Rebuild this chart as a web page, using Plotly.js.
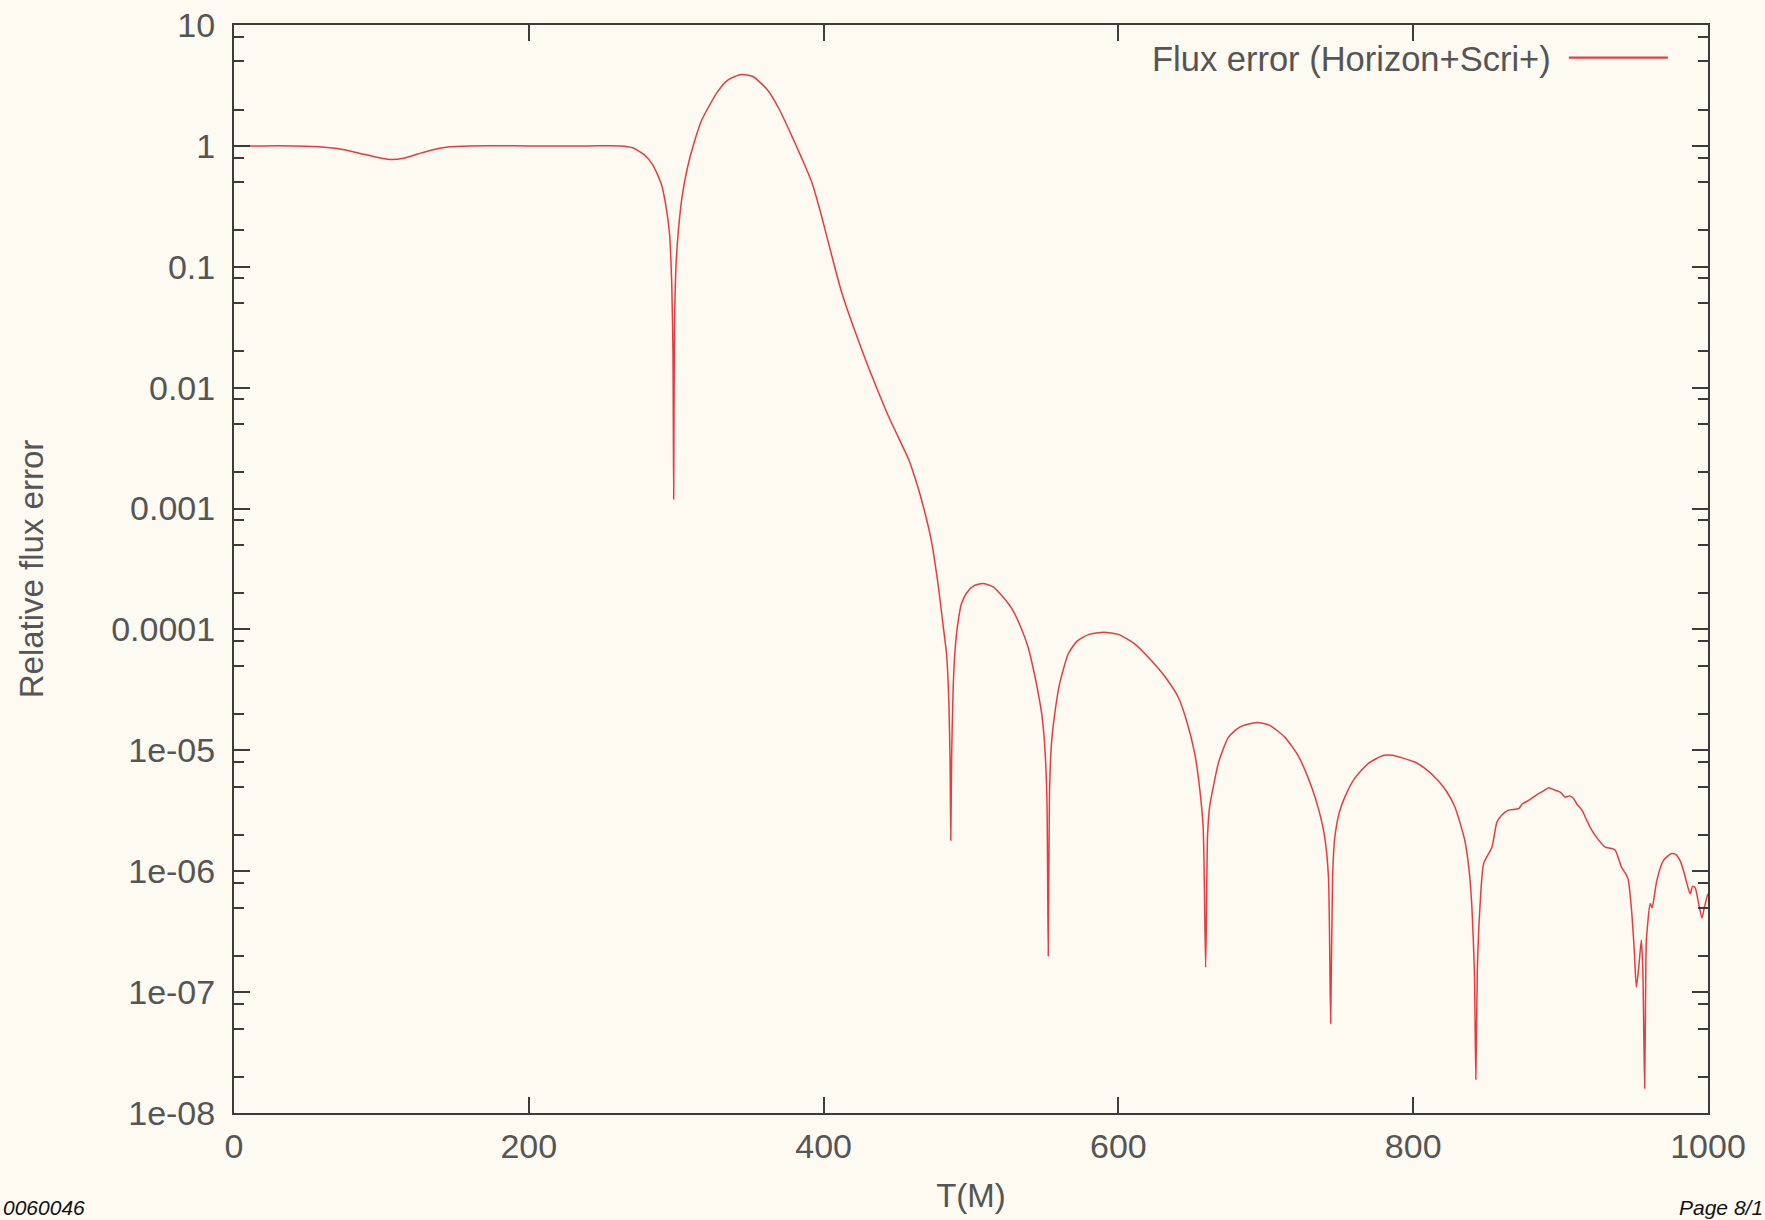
<!DOCTYPE html>
<html>
<head>
<meta charset="utf-8">
<script src="https://cdn.plot.ly/plotly-3.0.1.min.js"></script>
<style>
  html, body { margin: 0; padding: 0; background: #fcfaf1; }
  #chart { width: 1765px; height: 1220px; }
</style>
</head>
<body>
<div id="chart"></div>
<script>
// ---- data ----
const seriesName = "Flux error (Horizon+Scri+)";
const timeM = [
  0, 20, 40, 55, 70, 85, 100, 107, 115, 125, 135, 145, 160, 200, 240, 262, 270, 278, 284, 290,
  293, 295.5, 297, 297.8, 298.3, 298.8, 300, 301.5, 304, 307.5, 312, 317, 321, 328, 335, 344,
  352, 362, 370, 378, 385, 392, 398, 403, 408, 412, 417, 421, 426, 430, 437, 444, 449, 453,
  458, 464, 468, 473, 478, 481, 483.4, 485, 485.8, 486.3, 486.8, 487.8, 489, 491, 493.5, 497,
  502, 508, 515, 521, 527.5, 533, 538.8, 543, 546, 548, 550, 551.5, 552.4, 553.2, 554.5, 556.8,
  560, 566, 572, 580, 590, 600, 611, 622.5, 632, 640.6, 646, 651.8, 655, 657.5, 659.2, 660.5,
  662, 664.4, 668, 674.6, 682, 694, 703, 713, 722, 731, 736, 740, 742.5, 744, 745.3, 746.8,
  750, 753.6, 760, 769.6, 780, 786, 792, 801, 808, 817, 823, 828.3, 835, 838, 839.8, 841.5,
  842.5, 843.5, 845.3, 847.8, 853.4, 856.8, 860, 864.7, 871.5, 874, 878.3, 884, 889.4, 892,
  896, 900, 903, 906, 908.8, 911, 914.5, 918, 921, 926, 930.3, 934, 937, 939, 941.3, 944,
  945.8, 948, 950, 951.4, 953, 954.8, 955.8, 957, 957.8, 958.2, 960.8, 962, 963, 965.3, 969.8,
  975.2, 978, 981, 983.5, 985.7, 987.9, 989.5, 991.3, 993.5, 995.9, 997.5, 999.3, 1000
];
const fluxError = [
  1.0, 1.0, 1.0, 0.99, 0.95, 0.87, 0.79, 0.77, 0.79, 0.86, 0.93, 0.98, 1.0, 1.0, 1.0, 1.0, 0.97, 0.85, 0.7, 0.48,
  0.32, 0.186, 0.07, 0.02, 0.0012, 0.03, 0.11, 0.2, 0.38, 0.65, 1.05, 1.6, 2.0, 2.8, 3.5, 3.9,
  3.75, 2.9, 2.0, 1.24, 0.8, 0.5, 0.28, 0.163, 0.095, 0.063, 0.041, 0.030, 0.0205, 0.0152, 0.0093, 0.0058, 0.0043, 0.0034,
  0.0025, 0.0015, 0.001, 5.5e-4, 2.2e-4, 1.1e-4, 6.3e-5, 2.5e-5, 8e-6, 1.8e-6, 8e-6, 3e-5, 6.3e-5, 1.1e-4, 1.63e-4, 2.0e-4,
  2.3e-4, 2.4e-4, 2.25e-4, 1.9e-4, 1.5e-4, 1.1e-4, 7.1e-5, 4.3e-5, 2.8e-5, 2.0e-5, 1.1e-5, 4e-6, 2e-7, 4e-6, 1.1e-5, 2.0e-5,
  3.5e-5, 6.3e-5, 8e-5, 9.1e-5, 9.5e-5, 9.1e-5, 7.6e-5, 5.5e-5, 4e-5, 2.75e-5, 1.8e-5, 9.4e-6, 5e-6, 2.3e-6, 1.6e-7, 2e-6,
  3.5e-6, 5e-6, 8e-6, 1.28e-5, 1.55e-5, 1.7e-5, 1.6e-5, 1.28e-5, 9e-6, 5e-6, 3.2e-6, 1.9e-6, 9e-7, 5.5e-8, 9e-7, 1.9e-6,
  3.1e-6, 4.1e-6, 5.8e-6, 7.8e-6, 9.1e-6, 9.1e-6, 8.7e-6, 8.0e-6, 7.1e-6, 5.6e-6, 4.5e-6, 3.4e-6, 1.8e-6, 1.0e-6, 5.1e-7, 1.5e-7,
  1.9e-8, 1.5e-7, 5.1e-7, 1.16e-6, 1.58e-6, 2.55e-6, 2.9e-6, 3.2e-6, 3.3e-6, 3.6e-6, 3.85e-6, 4.3e-6, 4.7e-6, 4.9e-6,
  4.7e-6, 4.5e-6, 4.1e-6, 4.2e-6, 4.0e-6, 3.6e-6, 3.2e-6, 2.6e-6, 2.2e-6, 1.8e-6, 1.58e-6, 1.55e-6, 1.5e-6, 1.3e-6, 1.08e-6, 9.6e-7,
  8.6e-7, 5e-7, 2.2e-7, 1.1e-7, 1.6e-7, 2.7e-7, 1.5e-7, 1.6e-8, 1.5e-7, 2.7e-7, 5.4e-7, 5.0e-7, 5.6e-7, 8.4e-7, 1.23e-6,
  1.4e-6, 1.38e-6, 1.23e-6, 1.0e-6, 7.9e-7, 6.5e-7, 7.5e-7, 7.3e-7, 5.5e-7, 4.1e-7, 5e-7, 6.1e-7, 6.5e-7
];
const xTickVals = [0, 200, 400, 600, 800, 1000];
const yTickVals = [1e-8, 1e-7, 1e-6, 1e-5, 1e-4, 1e-3, 1e-2, 1e-1, 1, 10];
const yTickText = ["1e-08", "1e-07", "1e-06", "1e-05", "0.0001", "0.001", "0.01", "0.1", "1", "10"];
const yMinorVals = [];
[-8, -7, -6, -5, -4, -3, -2, -1, 0].forEach(function (e) {
  [2, 5, 8].forEach(function (m) { yMinorVals.push(m * Math.pow(10, e)); });
});
const xTitle = "T(M)";
const yTitle = "Relative flux error";
const footerLeft = "0060046";
const footerRight = "Page 8/1";

// ---- styling ----
const BG = "#fcfaf1";
const AXIS = "#3c3c3c";
const TXT = "#555555";
const FONT = "Liberation Sans, Arial, sans-serif";
const RED = "#e63c41";

const trace = {
  x: timeM,
  y: fluxError,
  type: "scatter",
  mode: "lines",
  name: seriesName,
  line: { color: RED, width: 1.5, shape: "spline", smoothing: 0.6 },
  showlegend: false,
  hoverinfo: "x+y"
};

const axisCommon = {
  showline: true, linecolor: AXIS, linewidth: 2, mirror: "allticks",
  ticks: "inside", ticklen: 16, tickwidth: 2, tickcolor: AXIS,
  showgrid: false, zeroline: false,
  tickfont: { family: FONT, size: 34, color: TXT }
};

const layout = {
  width: 1765, height: 1220,
  margin: { l: 234, r: 57, t: 25, b: 107 },
  paper_bgcolor: BG, plot_bgcolor: BG,
  font: { family: FONT, color: TXT },
  xaxis: Object.assign({}, axisCommon, {
    range: [0, 1000], tickmode: "array", tickvals: xTickVals,
    ticklabelstandoff: 2,
    title: { text: xTitle, font: { family: FONT, size: 33, color: TXT }, standoff: 20 }
  }),
  yaxis: Object.assign({}, axisCommon, {
    type: "log", range: [-8, 1], tickmode: "array",
    tickvals: yTickVals, ticktext: yTickText,
    ticklabelstandoff: 10,
    minor: { tickmode: "array", tickvals: yMinorVals, ticks: "inside", ticklen: 10, tickwidth: 2, tickcolor: AXIS, showgrid: false },
    title: { text: yTitle, font: { family: FONT, size: 33, color: TXT }, standoff: 58 }
  }),
  shapes: [
    { type: "line", xref: "paper", yref: "paper", x0: 0.9056, x1: 0.9728, y0: 0.970, y1: 0.970,
      line: { color: RED, width: 2.2 } }
  ],
  annotations: [
    { text: seriesName, xref: "paper", yref: "paper", x: 0.8948, y: 0.9692,
      xanchor: "right", yanchor: "middle", showarrow: false,
      font: { family: FONT, size: 34.5, color: TXT } },
    { text: footerLeft, xref: "paper", yref: "paper", x: -0.158, y: -0.087,
      xanchor: "left", yanchor: "middle", showarrow: false,
      font: { family: FONT, size: 21, color: "#111111", style: "italic" } },
    { text: footerRight, xref: "paper", yref: "paper", x: 1.0385, y: -0.087,
      xanchor: "right", yanchor: "middle", showarrow: false,
      font: { family: FONT, size: 21, color: "#111111", style: "italic" } }
  ]
};

Plotly.newPlot("chart", [trace], layout, { displayModeBar: false, staticPlot: true });
</script>
</body>
</html>
